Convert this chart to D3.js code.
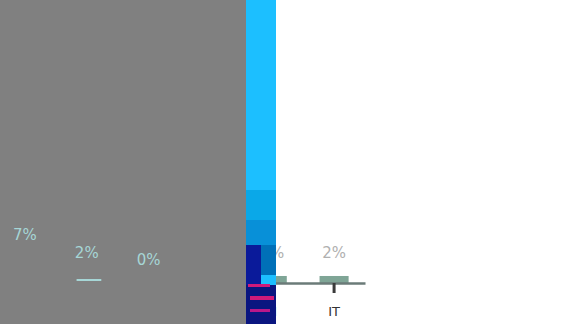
<!DOCTYPE html>
<html><head><meta charset="utf-8">
<script src="https://cdn.jsdelivr.net/npm/d3@7"></script>
<style>html,body{margin:0;padding:0;background:#fff;}svg{display:block;}</style>
</head><body>
<svg id="c" width="565" height="324"></svg>
<script>
const categories = ["E","M","I","C","H","IT"];
const values = [7, 2, 0, null, 2, 2];
const yMax = 75;

const svg = d3.select("#c");
const W = 565, H = 324;
const x = d3.scaleBand().domain(categories).range([-6, 365]).paddingInner(0.53).paddingOuter(0.265);
const y = d3.scaleLinear().domain([0, yMax]).range([283, 20]);
const grayEdge = 246, blueEdge = 276;
const inGray = d => x(d) + x.bandwidth()/2 < grayEdge;

const data = categories.map((c,i)=>({c, v: values[i]})).filter(d=>d.v !== null);

// bars
svg.append("g").selectAll("rect").data(data).join("rect")
  .attr("x", d=>x(d.c)).attr("width", x.bandwidth())
  .attr("y", d=>y(d.v)).attr("height", d=>y(0)-y(d.v))
  .attr("fill", "#7fa596");

// axis
const ax = svg.append("g").attr("transform", `translate(0,${y(0)})`)
  .call(d3.axisBottom(x).tickSize(10).tickSizeOuter(0).tickPadding(14));
ax.select(".domain").attr("stroke", "#6b7b78").attr("stroke-width", 2.5);
ax.selectAll(".tick line").attr("stroke", "#3a3a3a").attr("stroke-width", 3);
ax.selectAll(".tick text").attr("fill", "#333").style("font", "13px 'DejaVu Sans'");

// value labels outside the grey panel
svg.append("g").selectAll("text").data(data.filter(d=>!inGray(d.c))).join("text")
  .attr("x", d=>x(d.c)+x.bandwidth()/2).attr("y", d=>y(d.v)-18)
  .attr("text-anchor","middle").attr("fill","#b0b0b0")
  .style("font","15px 'DejaVu Sans'").text(d=>d.v+"%");

// grey panel and blue strip overlays
svg.append("rect").attr("x",0).attr("y",0).attr("width",grayEdge).attr("height",H).attr("fill","#808080");
const blue = svg.append("g");
blue.append("rect").attr("x",grayEdge).attr("y",0).attr("width",blueEdge-grayEdge).attr("height",H).attr("fill","#1cbfff");
blue.append("rect").attr("x",grayEdge).attr("y",190).attr("width",30).attr("height",30).attr("fill","#0aa8e8");
blue.append("rect").attr("x",grayEdge).attr("y",220).attr("width",30).attr("height",25).attr("fill","#0890d8");
blue.append("rect").attr("x",grayEdge).attr("y",245).attr("width",15).attr("height",40).attr("fill","#0a1a9a");
blue.append("rect").attr("x",261).attr("y",245).attr("width",15).attr("height",30).attr("fill","#0070b8");
blue.append("rect").attr("x",grayEdge).attr("y",285).attr("width",30).attr("height",39).attr("fill","#0a1680");
blue.append("rect").attr("x",248).attr("y",284).attr("width",22).attr("height",3).attr("fill","#d01a7a");
blue.append("rect").attr("x",250).attr("y",296).attr("width",24).attr("height",4).attr("fill","#d01a7a");
blue.append("rect").attr("x",250).attr("y",309).attr("width",20).attr("height",3).attr("fill","#b8188a");

// value labels inside the grey panel
const gl = svg.append("g");
gl.selectAll("text").data(data.filter(d=>inGray(d.c))).join("text")
  .attr("x", d=>x(d.c)+x.bandwidth()/2).attr("y", d=>y(d.v)-18)
  .attr("text-anchor","middle").attr("fill","#a6d6d6")
  .style("font","15px 'DejaVu Sans'").text(d=>d.v+"%");
gl.selectAll("rect").data(data.filter(d=>inGray(d.c) && d.v===2)).join("rect")
  .attr("x", d=>x(d.c)+x.bandwidth()*0.15).attr("width", x.bandwidth()*0.85)
  .attr("y", y(0)-4).attr("height", 2).attr("fill","#a6d6d6");
</script>
</body></html>
